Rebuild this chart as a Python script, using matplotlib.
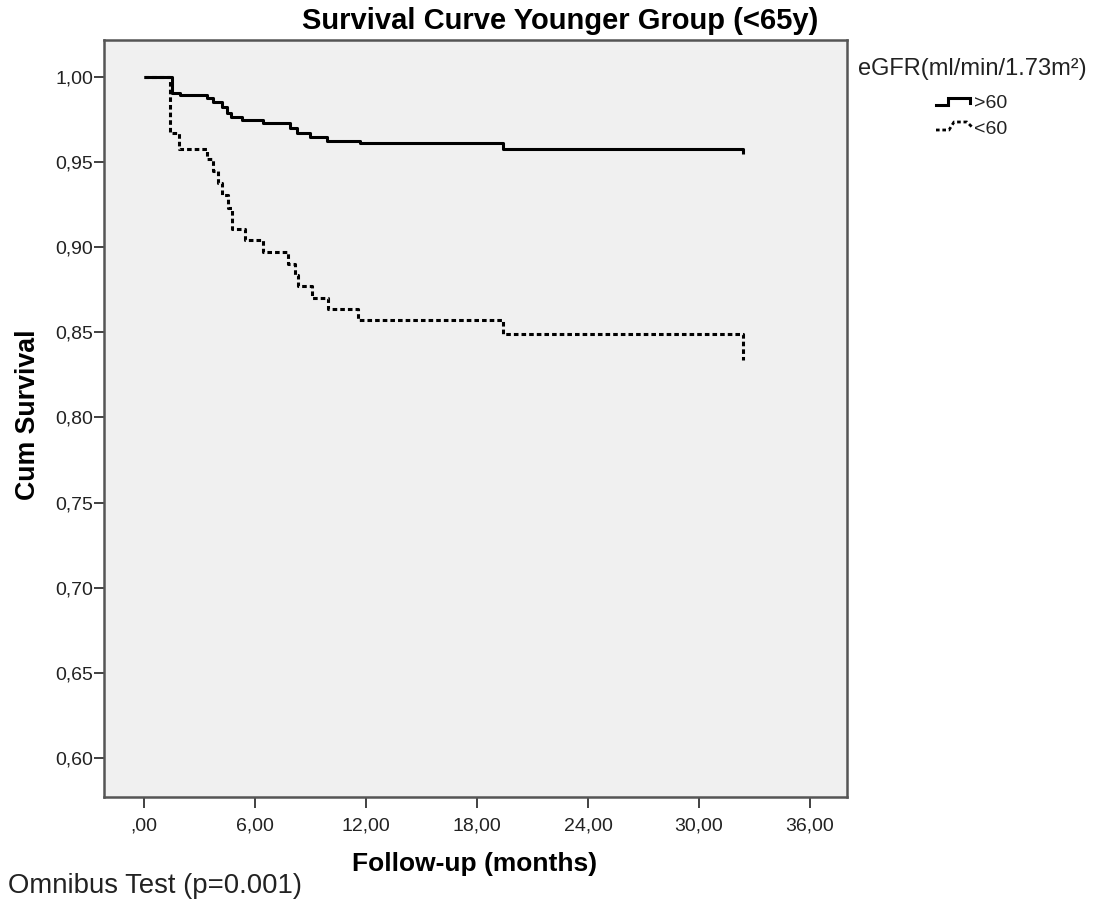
import matplotlib
matplotlib.use("Agg")
import matplotlib.pyplot as plt
from matplotlib.lines import Line2D
from matplotlib.ticker import FuncFormatter, FixedLocator

plt.rcParams['font.family'] = ['Liberation Sans', 'DejaVu Sans']

# Data
gt60_time = [0.0, 1.5, 1.95, 3.4, 3.73, 4.2, 4.5, 4.7, 5.3, 6.43, 7.89, 8.27, 8.97, 9.9, 11.68, 19.4, 32.4, 32.4]
gt60_surv = [1.0, 0.9906, 0.9894, 0.9875, 0.9853, 0.9825, 0.979, 0.9766, 0.9747, 0.973, 0.970, 0.967, 0.9647, 0.9625, 0.961, 0.958, 0.958, 0.955]

lt60_time = [0.0, 1.4, 1.9, 3.4, 3.73, 4.0, 4.2, 4.54, 4.76, 5.46, 6.43, 7.78, 8.16, 8.32, 9.08, 9.95, 11.57, 19.4, 32.4, 32.4]
lt60_surv = [1.0, 0.967, 0.958, 0.952, 0.945, 0.938, 0.931, 0.923, 0.911, 0.904, 0.897, 0.890, 0.884, 0.877, 0.870, 0.864, 0.857, 0.849, 0.849, 0.8335]

x_ticks = [0, 6, 12, 18, 24, 30, 36]
y_ticks = [0.60, 0.65, 0.70, 0.75, 0.80, 0.85, 0.90, 0.95, 1.00]

title = "Survival Curve Younger Group (<65y)"
xlabel = "Follow-up (months)"
ylabel = "Cum Survival"
footnote = "Omnibus Test (p=0.001)"
legend_title = "eGFR(ml/min/1.73m\u00b2)"
legend_labels = [">60", "<60"]

W, H = 1094, 905
fig = plt.figure(figsize=(W / 100, H / 100), dpi=100)
fig.patch.set_facecolor('white')
ax = fig.add_axes([104 / W, 1 - 797 / H, (847 - 104) / W, (797 - 40) / H])
ax.set_facecolor('#f0f0f0')

ax.step(gt60_time, gt60_surv, where='post', color='black', lw=2.2, solid_capstyle='butt')
ax.step(lt60_time, lt60_surv, where='post', color='black', lw=2.2,
        linestyle=(0, (1.5, 1.0)), dash_capstyle='butt')

ax.set_xlim(-2.16, 38.0)
ax.set_ylim(0.577, 1.0218)
ax.xaxis.set_major_locator(FixedLocator(x_ticks))
ax.yaxis.set_major_locator(FixedLocator(y_ticks))

def xfmt(v, pos):
    s = f"{v:.2f}".replace('.', ',')
    if s.startswith('0,'):
        s = s[1:]
    return s

ax.xaxis.set_major_formatter(FuncFormatter(xfmt))
ax.yaxis.set_major_formatter(FuncFormatter(lambda v, p: f"{v:.2f}".replace('.', ',')))
ax.tick_params(axis='y', length=7, width=1.3, pad=1, labelsize=14, color='#333333', labelcolor='#222222')
ax.tick_params(axis='x', length=8, width=1.3, pad=7, labelsize=14, color='#333333', labelcolor='#222222')
for sp in ax.spines.values():
    sp.set_color('#555555')
    sp.set_linewidth(1.8)

fig.text(560 / W, 1 - 21 / H, title, ha='center', va='center', fontsize=21, fontweight='bold')
fig.text(475 / W, 1 - 864 / H, xlabel, ha='center', va='center', fontsize=19, fontweight='bold')
fig.text(28 / W, 1 - 415 / H, ylabel, ha='center', va='center', fontsize=19.3, fontweight='bold', rotation=90)
fig.text(8 / W, 1 - 886 / H, footnote, ha='left', va='center', fontsize=19.8, color='#222222')
fig.text(858 / W, 1 - 69 / H, legend_title, ha='left', va='center', fontsize=17, color='#222222')

# legend icons (step shapes) in pixel coords
def px(xp, yp):
    return xp / W, 1 - yp / H

def icon_solid(x0, yb):
    xs = [x0, x0 + 12, x0 + 12, x0 + 34, x0 + 34]
    ys = [yb, yb, yb - 7, yb - 7, yb - 2]
    pts = [px(a, b) for a, b in zip(xs, ys)]
    fig.add_artist(Line2D([p[0] for p in pts], [p[1] for p in pts], transform=fig.transFigure,
                          color='black', lw=2.2, solid_joinstyle='miter'))

def icon_dotted(x0, yb):
    xs = [x0, x0 + 13, x0 + 18, x0 + 31, x0 + 36]
    ys = [yb, yb, yb - 8, yb - 8, yb - 3]
    pts = [px(a, b) for a, b in zip(xs, ys)]
    fig.add_artist(Line2D([p[0] for p in pts], [p[1] for p in pts], transform=fig.transFigure,
                          color='black', lw=2.0, linestyle=(0, (1.3, 1.0))))

icon_solid(936, 105)
fig.text(974 / W, 1 - 104 / H, legend_labels[0], ha='left', va='center', fontsize=14, color='#222222')
icon_dotted(936, 130)
fig.text(974 / W, 1 - 129 / H, legend_labels[1], ha='left', va='center', fontsize=14, color='#222222')

fig.savefig('out.png', dpi=100)
